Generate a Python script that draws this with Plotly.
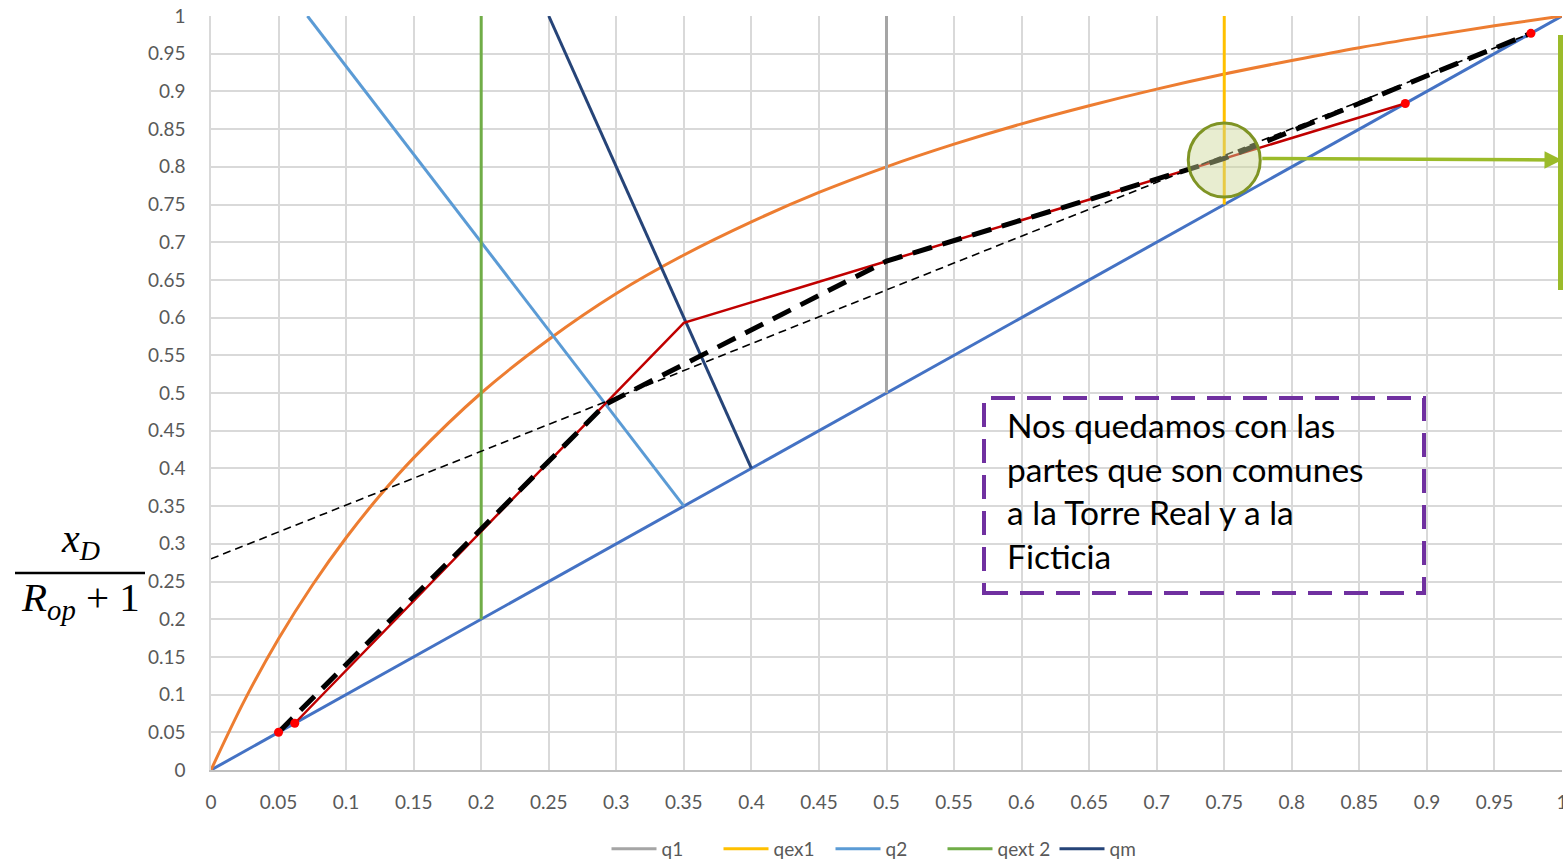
import plotly.graph_objects as go

# ---- equilibrium curve (y vs x) ----
x_eq = [0, 0.025, 0.05, 0.075, 0.1, 0.125, 0.15, 0.2, 0.25, 0.3, 0.35, 0.4, 0.45,
        0.5, 0.55, 0.6, 0.65, 0.7, 0.75, 0.8, 0.85, 0.9, 0.95, 1.0]
y_eq = [0, 0.093, 0.174, 0.245, 0.308, 0.364, 0.414, 0.500, 0.571, 0.632, 0.683, 0.727,
        0.766, 0.800, 0.830, 0.857, 0.881, 0.903, 0.923, 0.941, 0.958, 0.973, 0.987, 1.0]

# ---- diagonal y = x ----
x_diag = [0, 1]
y_diag = [0, 1]

# ---- feed lines ----
x_q1, y_q1 = [0.5, 0.5], [0.5, 1.0]
x_qex1, y_qex1 = [0.75, 0.75], [0.75, 1.0]
x_q2, y_q2 = [0.35, 0.0714], [0.35, 1.0]
x_qext2, y_qext2 = [0.2, 0.2], [0.2, 1.0]
x_qm, y_qm = [0.4, 0.25], [0.4, 1.0]

# ---- operating lines ----
x_real = [0.062, 0.35, 0.884]
y_real = [0.062, 0.593, 0.884]
x_common = [0.05, 0.292, 0.5, 0.75, 0.977]
y_common = [0.05, 0.485, 0.675, 0.811, 0.977]
x_fict = [0, 0.977]
y_fict = [0.28, 0.977]
x_pts = [0.05, 0.062, 0.884, 0.977]
y_pts = [0.05, 0.062, 0.884, 0.977]

# ---- axis ticks ----
tick_vals = [i / 20 for i in range(21)]
tick_text = ["0", "0.05", "0.1", "0.15", "0.2", "0.25", "0.3", "0.35", "0.4", "0.45", "0.5",
             "0.55", "0.6", "0.65", "0.7", "0.75", "0.8", "0.85", "0.9", "0.95", "1"]

note_text = "Nos quedamos con las<br>partes que son comunes<br>a la Torre Real y a la<br>Ficticia"

FONT = "Lato"
W, H = 1563, 861
ML, MR, MT, MB = 211, 1, 16, 91
PW, PH = W - ML - MR, H - MT - MB


def px_x(p):
    return (p - ML) / PW


def px_y(p):
    return (H - MB - p) / PH


fig = go.Figure()

fig.add_trace(go.Scatter(x=x_diag, y=y_diag, mode="lines", showlegend=False,
                         line=dict(color="#4472C4", width=3)))
fig.add_trace(go.Scatter(x=x_eq, y=y_eq, mode="lines", showlegend=False,
                         line=dict(color="#ED7D31", width=3, shape="spline")))
fig.add_trace(go.Scatter(x=x_q1, y=y_q1, mode="lines", name="q1",
                         line=dict(color="#A5A5A5", width=3)))
fig.add_trace(go.Scatter(x=x_qex1, y=y_qex1, mode="lines", name="qex1",
                         line=dict(color="#FFC000", width=3)))
fig.add_trace(go.Scatter(x=x_q2, y=y_q2, mode="lines", name="q2",
                         line=dict(color="#5B9BD5", width=3)))
fig.add_trace(go.Scatter(x=x_qext2, y=y_qext2, mode="lines", name="qext 2",
                         line=dict(color="#70AD47", width=3)))
fig.add_trace(go.Scatter(x=x_qm, y=y_qm, mode="lines", name="qm",
                         line=dict(color="#264478", width=3)))
fig.add_trace(go.Scatter(x=x_real, y=y_real, mode="lines", showlegend=False,
                         line=dict(color="#C00000", width=2.5)))
fig.add_trace(go.Scatter(x=x_common, y=y_common, mode="lines", showlegend=False,
                         line=dict(color="#000000", width=5, dash="20px,11px")))
fig.add_trace(go.Scatter(x=x_fict, y=y_fict, mode="lines", showlegend=False,
                         line=dict(color="#000000", width=1.6, dash="8px,5px")))
fig.add_trace(go.Scatter(x=x_pts, y=y_pts, mode="markers", showlegend=False,
                         marker=dict(color="#FF0000", size=9)))

axis_common = dict(
    range=[0, 1], tickvals=tick_vals, ticktext=tick_text,
    showgrid=True, gridcolor="#D9D9D9", gridwidth=1.5,
    zeroline=False, ticks="",
    tickfont=dict(family=FONT, size=19, color="#595959"),
    fixedrange=True, ticklabeloverflow="allow",
)
fig.update_xaxes(**axis_common, showline=True, linecolor="#BFBFBF", linewidth=1.5,
                 ticklabelstandoff=14)
fig.update_yaxes(**axis_common, showline=True, linecolor="#D9D9D9", linewidth=1.5,
                 ticklabelstandoff=20)

shapes = [
    # highlighted intersection
    dict(type="circle", xref="x", yref="y",
         x0=0.75 - 36 / PW, x1=0.75 + 36 / PW,
         y0=0.809 - 37 / PH, y1=0.809 + 37 / PH,
         fillcolor="rgba(205,214,150,0.45)", line=dict(color="#7F9424", width=3),
         layer="above"),
    # bracket on the right edge
    dict(type="line", xref="paper", yref="paper",
         x0=px_x(1560.5), x1=px_x(1560.5), y0=px_y(35), y1=px_y(290),
         line=dict(color="#9BBB2A", width=5)),
    # dashed note frame
    dict(type="rect", xref="paper", yref="paper",
         x0=px_x(984), x1=px_x(1424), y0=px_y(593), y1=px_y(398),
         line=dict(color="#7030A0", width=4, dash="24px,12px")),
    # fraction bar of the y label
    dict(type="line", xref="paper", yref="paper",
         x0=px_x(15), x1=px_x(145), y0=px_y(573), y1=px_y(573),
         line=dict(color="#000000", width=2.5)),
]

annotations = [
    dict(x=1.0, y=0.809, xref="x", yref="y", ax=0.777, ay=0.811, axref="x", ayref="y",
         text="", showarrow=True, arrowhead=2, arrowsize=1, arrowwidth=3.5,
         arrowcolor="#9BBB2A"),
    dict(x=px_x(1005), y=px_y(403), xref="paper", yref="paper",
         xanchor="left", yanchor="top", align="left", showarrow=False,
         text=note_text, font=dict(family=FONT, size=33.5, color="#000000")),
    dict(x=px_x(80), y=px_y(541), xref="paper", yref="paper",
         xanchor="center", yanchor="middle", showarrow=False,
         text="<i>x</i><sub><i>D</i></sub>",
         font=dict(family="Liberation Serif", size=40, color="#000000")),
    dict(x=px_x(80), y=px_y(600), xref="paper", yref="paper",
         xanchor="center", yanchor="middle", showarrow=False,
         text="<i>R</i><sub><i>op</i></sub> + 1",
         font=dict(family="Liberation Serif", size=41, color="#000000")),
]

fig.update_layout(
    width=W, height=H,
    margin=dict(l=ML, r=MR, t=MT, b=MB, autoexpand=False),
    paper_bgcolor="white", plot_bgcolor="white",
    shapes=shapes, annotations=annotations,
    legend=dict(orientation="h", x=0.5, xanchor="center", y=px_y(868), yanchor="bottom",
                font=dict(family=FONT, size=19, color="#595959"),
                itemwidth=45, entrywidth=52, entrywidthmode="pixels",
                bgcolor="rgba(0,0,0,0)"),
)

fig.write_html("out.html")
